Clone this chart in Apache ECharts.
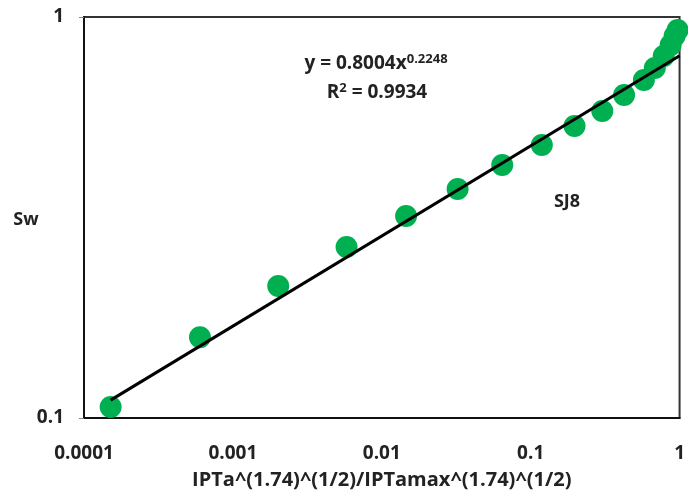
<!DOCTYPE html>
<html>
<head>
<meta charset="utf-8">
<script src="https://cdn.jsdelivr.net/npm/echarts@6/dist/echarts.min.js"></script>
<style>html,body{margin:0;padding:0;background:#fff}#c{width:688px;height:497px}</style>
</head>
<body>
<div id="c"></div>
<script>
// Measured data (SJ8)
const xValues = [0.000151, 0.000601, 0.002016, 0.00580, 0.01456, 0.0323, 0.0644, 0.1188, 0.197, 0.3027, 0.424, 0.576, 0.6817, 0.7824, 0.871, 0.926, 0.970];
const swValues = [0.1065, 0.159, 0.2134, 0.267, 0.319, 0.3725, 0.4274, 0.4795, 0.535, 0.5829, 0.639, 0.6966, 0.746, 0.799, 0.8517, 0.897, 0.928];
// Power trendline y = 0.8004 x^0.2248 (endpoints)
const trendX = [0.000151, 1];
const trendY = [0.1108, 0.8004];
const xTicks = [0.0001, 0.001, 0.01, 0.1, 1];
const yTicks = [0.1, 1];
const xTitle = 'IPTa^(1.74)^(1/2)/IPTamax^(1.74)^(1/2)';
const yTitle = 'Sw';
const seriesLabel = 'SJ8';

const FONT = 'Open Sans';
const chart = echarts.init(document.getElementById('c'), null, {renderer: 'canvas'});
chart.setOption({
  animation: false,
  grid: {left: 84, right: 3, top: 17, bottom: 79, show: true, borderColor: '#333', borderWidth: 2},
  xAxis: {
    type: 'log', logBase: 10, min: xTicks[0], max: xTicks[xTicks.length - 1],
    splitLine: {show: false},
    axisLine: {show: true, lineStyle: {color: '#111', width: 2}},
    axisTick: {show: false},
    minorTick: {show: false},
    axisLabel: {color: '#222', fontFamily: FONT, fontWeight: 'bold', fontSize: 19, margin: 26},
    name: xTitle, nameLocation: 'middle', nameGap: 52,
    nameTextStyle: {color: '#222', fontFamily: FONT, fontWeight: 'bold', fontSize: 20}
  },
  yAxis: {
    type: 'log', logBase: 10, min: yTicks[0], max: yTicks[yTicks.length - 1],
    splitLine: {show: false},
    axisLine: {show: true, lineStyle: {color: '#111', width: 2}},
    axisTick: {show: true, length: 5, lineStyle: {color: '#888'}},
    axisLabel: {color: '#222', fontFamily: FONT, fontWeight: 'bold', fontSize: 19, margin: 20}
  },
  series: [
    {
      type: 'scatter', name: seriesLabel,
      data: xValues.map((x, i) => [x, swValues[i]]),
      symbolSize: 22, clip: false,
      itemStyle: {color: '#00b050', opacity: 1},
      z: 2
    },
    {
      type: 'line', name: 'Power trend',
      data: trendX.map((x, i) => [x, trendY[i]]),
      showSymbol: false, symbol: 'none',
      lineStyle: {color: '#000', width: 3},
      z: 3
    }
  ],
  graphic: [
    {type: 'text', x: 26, y: 220, style: {
      text: yTitle, align: 'center', verticalAlign: 'middle',
      fontFamily: FONT, fontWeight: 'bold', fontSize: 18, fill: '#222'}},
    {type: 'text', x: 376, y: 64, style: {
      text: '{b|y = 0.8004x}{s|0.2248}',
      align: 'center', verticalAlign: 'middle',
      rich: {
        b: {fontFamily: FONT, fontWeight: 'bold', fontSize: 19, fill: '#222'},
        s: {fontFamily: FONT, fontWeight: 'bold', fontSize: 13, fill: '#222', padding: [0, 0, 10, 0]}
      }}},
    {type: 'text', x: 377, y: 93, style: {
      text: '{b|R}{s|2}{b| = 0.9934}',
      align: 'center', verticalAlign: 'middle',
      rich: {
        b: {fontFamily: FONT, fontWeight: 'bold', fontSize: 19, fill: '#222'},
        s: {fontFamily: FONT, fontWeight: 'bold', fontSize: 13, fill: '#222', padding: [0, 0, 10, 0]}
      }}},
    {type: 'text', x: 567, y: 202, style: {
      text: seriesLabel, align: 'center', verticalAlign: 'middle',
      fontFamily: FONT, fontWeight: 'bold', fontSize: 18, fill: '#222'}}
  ]
});
</script>
</body>
</html>
